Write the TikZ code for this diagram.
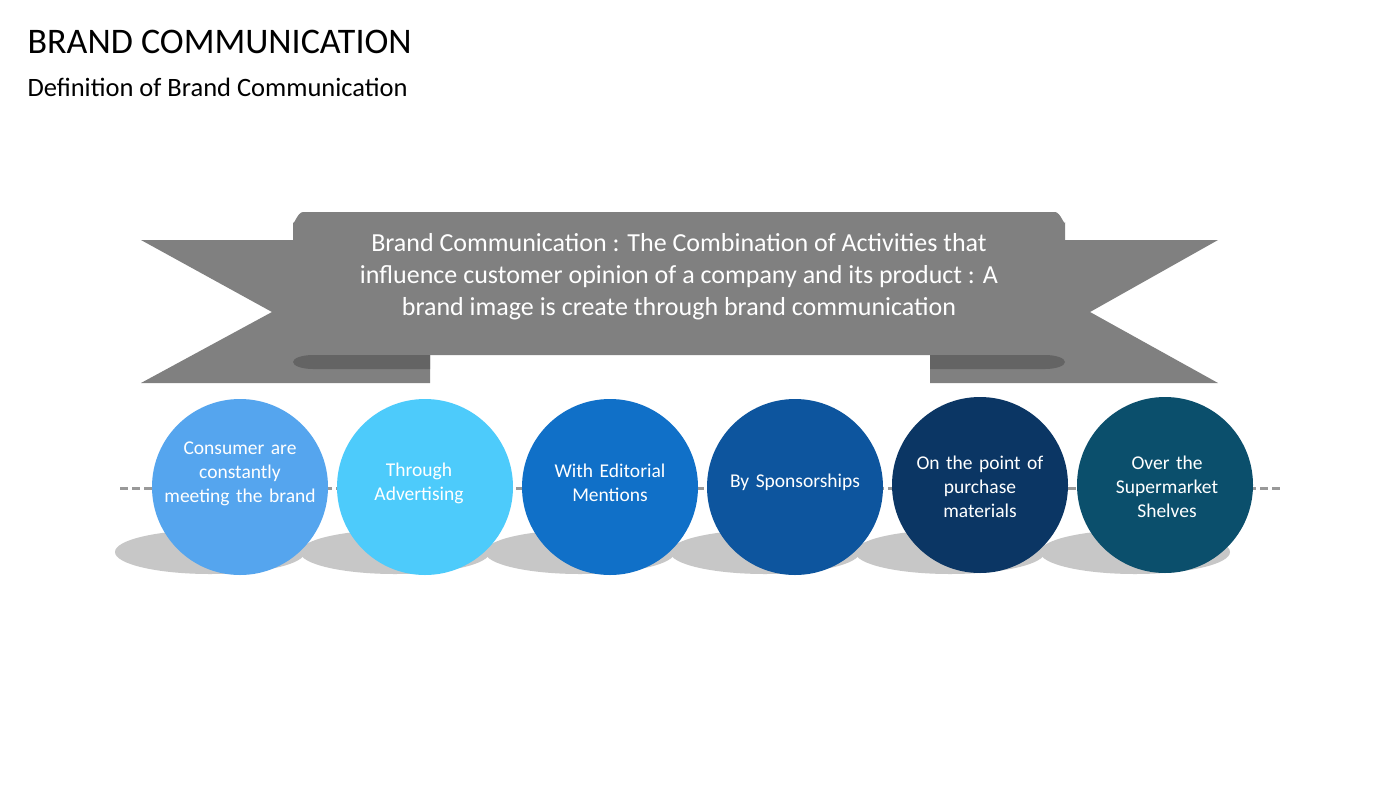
\documentclass[tikz,border=0pt]{standalone}
\usepackage{fontspec}
\setmainfont{Carlito}
\begin{document}
\begin{tikzpicture}[x=1pt,y=-1pt,
  ctext/.style={text=white,font=\fontsize{19.5}{24}\selectfont,align=center,text width=170pt},
  circ/.style={circle,minimum size=176pt,inner sep=0pt},
  rib/.style={fill={rgb,255:red,128;green,128;blue,128}},
  fold/.style={fill={rgb,255:red,100;green,100;blue,100}}]
\useasboundingbox (0,0) rectangle (1400,788);
\fill[white] (0,0) rectangle (1400,788);
\node[anchor=west,font=\fontsize{36}{40}\selectfont] (t) at (24,42) {BRAND COMMUNICATION};
\node[anchor=west,font=\fontsize{26.5}{30}\selectfont] (s) at (24,87) {Definition of Brand Communication};
% dashed line
\draw[gray!80,line width=3pt,dash pattern=on 8pt off 4pt] (120,488) -- (1280,488);
% shadows
\foreach \x in {240,425,610,795,980,1165}{
  \fill[black!22] (\x-30,552) ellipse (95pt and 22pt);}
% ribbon tails
\fill[rib] (141,240) -- (330,240) -- (330,355) -- (430,355) -- (430,383) -- (141,383) -- (272,312) -- cycle;
\fill[rib] (1218,240) -- (1030,240) -- (1030,355) -- (930,355) -- (930,383) -- (1218,383) -- (1090,312) -- cycle;
% main ribbon
\fill[rib] (293,355) -- (293,222) to[out=-90,in=180] (303,212) -- (1055,212) to[out=0,in=-90] (1065,222) -- (1065,355) -- cycle;
\fill[fold] (293,362) arc[start angle=180,end angle=270,x radius=20pt,y radius=-7pt] -- (430,355) -- (430,369) -- (313,369) arc[start angle=90,end angle=180,x radius=20pt,y radius=-7pt];
\fill[fold] (1065,362) arc[start angle=0,end angle=-90,x radius=20pt,y radius=-7pt] -- (930,355) -- (930,369) -- (1045,369) arc[start angle=90,end angle=0,x radius=20pt,y radius=-7pt];
\node[text=white,font=\fontsize{26}{32}\selectfont,align=center] (rb) at (679,277)
 {Brand Communication : The Combination of Activities that\\influence customer opinion of a company and its product : A\\brand image is create through brand communication};
% circles
\node[circ,fill={rgb,255:red,85;green,165;blue,238}] (c1) at (240,487) {};
\node[ctext] at (240,474) {Consumer are\\constantly\\meeting the brand};
\node[circ,fill={rgb,255:red,77;green,203;blue,251}] (c2) at (425,487) {};
\node[ctext] at (419,483) {Through\\Advertising};
\node[circ,fill={rgb,255:red,16;green,112;blue,200}] (c3) at (610,487) {};
\node[ctext] at (610,483) {With Editorial\\Mentions};
\node[circ,fill={rgb,255:red,13;green,85;blue,158}] (c4) at (795,487) {};
\node[ctext] at (795,482) {By Sponsorships};
\node[circ,fill={rgb,255:red,11;green,54;blue,100}] (c5) at (980,485) {};
\node[ctext] at (980,487) {On the point of\\purchase\\materials};
\node[circ,fill={rgb,255:red,11;green,79;blue,108}] (c6) at (1165,485) {};
\node[ctext] at (1167,487) {Over the\\Supermarket\\Shelves};
\end{tikzpicture}
\end{document}
